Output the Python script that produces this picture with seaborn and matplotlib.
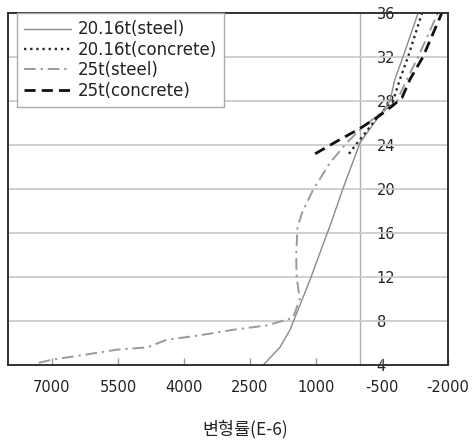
import numpy as np
import pandas as pd
import matplotlib
matplotlib.use("Agg")
import matplotlib.pyplot as plt
import seaborn as sns

# ---- data (strain E-6 vs height) ----
steel_2016_x = [2200, 1820, 1590, 1480, 1360, 1140, 910, 650, 390, 0, -230, -680, -795, -977, -1320]
steel_2016_y = [4, 5.6, 7.2, 8.3, 9.5, 11.7, 14.2, 17, 20, 24.2, 25.5, 28, 30, 32, 36]

conc_2016_x = [250, 100, -100, -350, -750, -910, -1090, -1410]
conc_2016_y = [23.2, 24, 25, 26.3, 28, 30, 32, 36]

steel_25_x = [7300, 6980, 6300, 5520, 4840, 4390, 3640, 2890, 2110, 1520, 1370, 1440, 1450,
              1420, 1320, 1070, 680, 300, 0, -400, -840, -1070, -1320, -1770]
steel_25_y = [4.2, 4.5, 4.9, 5.4, 5.6, 6.3, 6.7, 7.2, 7.6, 8.3, 10, 12, 14,
              16.5, 17.8, 19.9, 22.4, 24.2, 25.4, 26.7, 28, 30, 32, 36]

conc_25_x = [1020, 455, 0, -455, -750, -955, -1140, -1430, -1860]
conc_25_y = [23.2, 24.5, 25.5, 26.7, 27.6, 28.3, 30, 32, 36]

series_names = ["20.16t(steel)", "20.16t(concrete)", "25t(steel)", "25t(concrete)"]
x_ticks = [7000, 5500, 4000, 2500, 1000, -500, -2000]
x_tick_labels = ["7000", "5500", "4000", "2500", "1000", "-500", "-2000"]
y_ticks = [4, 8, 12, 16, 20, 24, 28, 32, 36]
x_label = "변형률(E-6)"

frames = []
for name, xs, ys in zip(series_names,
                        [steel_2016_x, conc_2016_x, steel_25_x, conc_25_x],
                        [steel_2016_y, conc_2016_y, steel_25_y, conc_25_y]):
    frames.append(pd.DataFrame({"strain": xs, "height": ys, "series": name}))
df = pd.concat(frames, ignore_index=True)

styles = {
    "20.16t(steel)": dict(color="#8a8a8a", linestyle="-", lw=1.0),
    "20.16t(concrete)": dict(color="#2a2a2a", linestyle=(0, (1, 1.6)), lw=1.7),
    "25t(steel)": dict(color="#9a9a9a", linestyle=(0, (6, 2.5, 1.2, 2.5)), lw=1.4),
    "25t(concrete)": dict(color="#111111", linestyle=(0, (4, 2.2)), lw=2.0),
}

sns.set_theme(style="white")
plt.rcParams["font.family"] = ["DejaVu Sans", "Noto Sans CJK KR"]
plt.rcParams["axes.unicode_minus"] = False

fig = plt.figure(figsize=(4.73, 4.44), dpi=100)
ax = fig.add_axes([8 / 473, 1 - 365 / 444, 440 / 473, 352 / 444])

for name in series_names:
    sub = df[df["series"] == name]
    sns.lineplot(data=sub, x="strain", y="height", sort=False, estimator=None,
                 ax=ax, label=name, **styles[name])

ax.set_xlim(8000, -2000)
ax.set_ylim(4, 36)

ax.set_xticks(x_ticks)
ax.set_xticklabels(x_tick_labels)
ax.tick_params(axis="x", direction="in", length=5, width=1, color="#999999",
               pad=11, labelsize=10.5, labelcolor="#222222", bottom=True)
ax.set_yticks(y_ticks)
ax.tick_params(axis="y", left=False, labelleft=False)
ax.yaxis.grid(True, color="#c8c8c8", lw=1.2)
ax.xaxis.grid(False)

for sp in ax.spines.values():
    sp.set_color("#333333")
    sp.set_linewidth(1.4)

sec = ax.secondary_yaxis(0.8)
sec.set_yticks(y_ticks)
sec.set_yticklabels([str(v) for v in y_ticks])
sec.tick_params(length=0, pad=12, labelsize=10.5, labelcolor="#222222")
for sp in sec.spines.values():
    sp.set_color("#b0b0b0")
    sp.set_linewidth(1.0)

ax.set_xlabel(x_label, fontsize=12.5, color="#222222",
              family=["Noto Sans CJK KR", "DejaVu Sans"])
ax.set_ylabel("")
ax.xaxis.set_label_coords(0.54, -0.155)

handles, labels = ax.get_legend_handles_labels()
leg = ax.legend(handles, labels, loc="upper left", bbox_to_anchor=(0.02, 1.0),
                borderaxespad=0, fontsize=12, frameon=True, fancybox=False,
                framealpha=1, edgecolor="#aaaaaa", borderpad=0.45,
                labelspacing=0.14, handlelength=2.8, handletextpad=0.4)
leg.get_frame().set_linewidth(1.0)
for t in leg.get_texts():
    t.set_color("#222222")

fig.savefig("out.png", dpi=100)
